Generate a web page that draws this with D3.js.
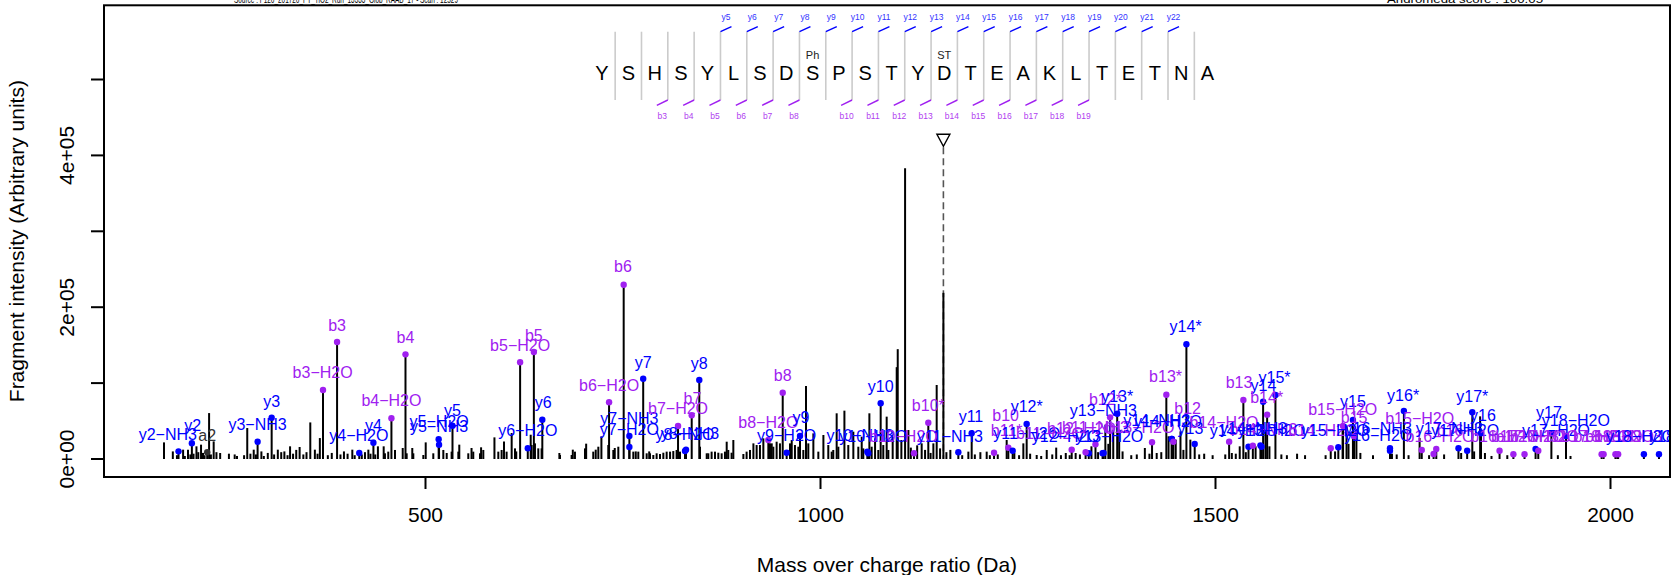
<!DOCTYPE html>
<html><head><meta charset="utf-8">
<script src="https://cdn.jsdelivr.net/npm/d3@7"></script>
<style>body{margin:0;background:#fff}svg{display:block;font-family:"Liberation Sans",Arial,Helvetica,sans-serif}</style>
</head><body><svg id="c" width="1671" height="575"></svg>
<script>
// ---------------- DATA ----------------
const headerLeft = "Source : F126_201726_PT_TiO2_Run_13333_Glob_RAAB_17 - Scan : 12529";
const headerRight = "Andromeda score : 100.05";
const xTitle = "Mass over charge ratio (Da)";
const yTitle = "Fragment intensity (Arbitrary units)";
const xTicks = [500, 1000, 1500, 2000];
const yTicks = [0, 100000, 200000, 300000, 400000, 500000];
const yTickLabels = ["0e+00", "", "2e+05", "", "4e+05", ""];

const sequence = ["Y","S","H","S","Y","L","S","D","S","P","S","T","Y","D","T","E","A","K","L","T","E","T","N","A"];
const yIonSites = [5,6,7,8,9,10,11,12,13,14,15,16,17,18,19,20,21,22];
const bIonSites = [3,4,5,6,7,8,10,11,12,13,14,15,16,17,18,19];
const modSites = [9, 14];          // 1-based residue positions
const modLabels = ["Ph", "ST"];

const precursorMz = 1156.2;
const precursorMarkInt = 420000;

// unannotated peaks (m/z, intensity) - larger peaks
const peakMz = [169.6,180.8,193.8,200.0,210.7,216.5,226.7,232.5,240.7,251.8,259.1,275.0,283.2,292.9,313.7,322.0,329.2,341.3,354.8,360.6,366.9,397.4,408.0,428.3,440.4,447.7,471.8,483.9,500.9,527.5,543.4,558.9,571.0,587.9,600.0,609.7,615.5,633.8,670.1,687.1,704.0,716.1,723.3,740.2,766.8,783.8,797.5,810.2,856.6,867.1,881.9,890.3,903.0,915.7,928.3,938.9,964.2,982.3,991.6,1004.3,1014.8,1021.1,1030.9,1042.2,1052.8,1062.5,1069.7,1084.4,1092.0,1097.1,1098.4,1107.7,1111.9,1128.7,1143.5,1147.7,1156.2,1187.8,1211.0,1236.3,1257.4,1274.3,1287.0,1311.1,1323.6,1343.6,1361.2,1371.2,1378.7,1411.2,1426.2,1441.2,1450.3,1456.3,1468.8,1486.3,1521.3,1526.3,1531.3,1551.4,1563.9,1568.9,1603.9,1661.5,1666.5,1679.0,1724.0,1759.0,1811.6,1835.6,1841.7,2009.3];
const peakInt = [21900,10000,12300,12300,16700,18900,60500,23200,7900,7000,6000,40800,12300,10000,12300,10000,16700,15800,48200,12300,27600,10000,12300,12300,16700,16700,14500,14500,21900,7900,18900,14500,15400,28500,23200,34200,10000,32000,7900,12300,20200,12300,29800,14500,10000,10000,6600,9700,7500,9700,22800,25000,6600,20600,27200,20600,25000,96200,33800,31600,9700,60200,63700,36000,29400,60200,27200,55800,29400,121000,144700,383000,38200,20600,20600,97500,218900,9700,9700,25000,20600,5300,11900,7900,7900,16700,45200,36500,38600,14500,7900,29900,25500,36500,25500,7000,7900,7000,16700,16700,36500,16700,7000,38600,43000,34300,7000,27700,7900,56200,7900,3500];
// unannotated small peaks (background "grass")
const smallMz = [186,196,203,207,213,219,221,229,236,262,271,279,286,296,301,309,318,326,333,337,346,350,364,377,382,393,402,411,420,424,431,437,449.3,453.5,462.0,476.8,485.2,497.9,510.5,523.2,533.7,542.2,554.8,561.1,569.6,573.8,592.8,597.0,603.3,613.9,635.0,639.2,643.4,647.6,670.9,685.6,689.8,702.5,713.0,719.4,732.0,738.4,744.7,763.7,770.0,780.6,784.8,789.0,793.2,801.7,805.9,814.3,818.5,822.8,848.1,858.6,862.8,871.3,875.5,879.7,883.9,888.1,907.1,911.4,919.8,924.0,936.7,940.9,945.1,949.3,962.0,968.3,972.6,978.9,985.2,997.9,1010.5,1016.8,1023.2,1035.8,1048.5,1054.8,1065.4,1073.8,1080.1,1086.5,1103,1115,1123,1133,1140,1152,1160,1165,1180,1196,1203,1215,1225,1246,1252,1266,1280,1294,1299,1305,1316,1329,1352,1365,1383,1394,1401,1417,1432,1460,1480,1497,1513,1539,1584,1591,1614,1640,1652,1669,1684,1700,1730,1745,1771,1790,1828,1850,1870,1934,1950];
const smallInt = [5000,4000,6000,7000,9000,8000,5000,6000,9000,4000,5000,7000,6000,4000,8000,6000,9000,5000,7000,12000,6000,9000,7000,5000,8000,6000,7000,5000,6000,9000,7000,6000,7500,9700,11900,7500,7500,5300,7500,11900,9700,9700,7500,9700,7500,11900,9700,11900,9700,14000,18400,20600,14000,14000,5300,5300,9700,14000,9700,16200,18400,11900,16200,9700,9700,7500,7500,5300,7500,8300,9700,10500,11900,9700,16200,7500,9700,8300,7500,9700,11900,8300,9700,11900,18400,18400,20600,16200,22800,20600,20600,18400,16200,11900,20600,9700,18400,11900,16200,18400,16200,14000,16200,11900,18400,11900,25000,15000,18000,12000,8000,14000,9000,12000,5000,6000,9000,5000,6000,8000,5000,7000,4000,6000,15000,5000,5000,6000,9000,20000,10000,5000,6000,7000,9000,12000,6000,5000,6000,9000,6000,5000,5000,5000,10000,20000,8000,5000,6000,5000,5000,6000,10000,4000,5000,5000,4000];

// annotated fragment ions: peak m/z, intensity, label, label anchor (m/z, intensity)
const ionMz = [188.0,204.9,224.3,288.1,305.9,370.9,388.7,416.8,434.7,457.5,475.3,517.3,517.8,534.8,620.4,637.8,630.1,648.5,733.0,751.5,758.7,758.7,776.2,820.3,837.6,829.1,830.4,847.2,934.6,952.8,957.8,974.7,1059.9,1061.1,1076.8,1119.0,1137.1,1175.1,1192.0,1220.3,1238.4,1243.9,1261.6,1318.6,1340.2,1336.2,1348.7,1357.7,1367.2,1359.0,1376.2,1420.3,1445.3,1438.4,1445.3,1463.8,1474.3,1447.3,1517.9,1535.9,1542.4,1547.9,1557.5,1558.9,1560.9,1566.0,1576.5,1646.5,1656.1,1674.6,1662.1,1676.0,1721.5,1721.5,1739.1,1761.7,1776.7,1780.1,1808.2,1819.2,1825.7,1836.7,1860.2,1877.7,1891.8,1905.8,1909.2,1925.8,1944.3,1989.4,1991.9,2006.9,2010.3,2042.9,2062.0];
const ionInt = [10100,20700,8800,22800,54400,90900,154100,7900,21500,53600,137900,26000,18800,43900,127400,141000,14100,51800,74700,229600,30300,15800,105800,43500,57600,10500,12300,104100,25000,87400,8300,30300,9600,7500,73400,7500,47800,8800,33900,8300,14900,10900,46100,12300,7500,8800,19400,7500,54900,8000,59700,22000,26400,84700,26400,151100,19800,22800,22800,77700,16200,17500,18000,16200,75500,58400,84300,14100,15400,51400,43500,30000,14100,10900,63200,11900,6600,13200,14100,10900,61500,34000,10900,6200,6200,13200,10900,33900,30300,6200,6200,6200,6200,6200,6200];
const ionLabel = ["y2-NH3","y2","a2","y3-NH3","y3","b3-H2O","b3","y4-H2O","y4","b4-H2O","b4","y5-H2O","y5-NH3","y5","b5-H2O","b5","y6-H2O","y6","b6-H2O","b6","y7-NH3","y7-H2O","y7","b7-H2O","b7","y8-H2O","y8-NH3","y8","b8-H2O","b8","y9-H2O","y9","y10-NH3","y10-H2O","y10","b10-H2O","b10*","y11-NH3","y11","b10","b11*","y11-H2O","y12*","b11-H2O","y12-H2O","b12-H2O","b11-NH3","y13-H2O","b12*","y13-NH3","y13*","b13-H2O","y14-NH3","b13*","y14-H2O","y14*","y13","b12","b14-H2O","b13","y14-H2O","b14-NH3","y14-NH3","y13-H2O","y14","b14*","y15*","b14-H2O","y15-H2O","y15","b15-H2O","b15","y16-NH3","y16-H2O","y16*","b15-H2O","b16-H2O","b16","y17-NH3","y17-H2O","y17*","y16","b16-H2O","b17-H2O","b17-NH3","y17-H2O","b17-H2O","y17","y18-H2O","b17-H2O","b18-H2O","b18-H2O","b18-NH3","y18-H2O","y18"];
const labelMz = [174.4,205.9,224.3,288.1,305.9,370.4,388.7,416.3,434.7,457.5,475.3,517.8,517.8,534.8,620.4,637.8,630.1,649.5,733.0,750.6,758.7,758.7,776.2,820.3,838.6,829.1,835.4,847.2,934.6,952.8,957.8,976.0,1050.6,1067.5,1076.8,1105.4,1137.1,1164.6,1191.1,1235.0,1236.3,1261.7,1261.6,1291.1,1311.1,1331.1,1348.7,1366.2,1361.3,1358.7,1376.2,1405.0,1426.3,1437.4,1440.5,1462.8,1468.9,1465.3,1511.4,1530.4,1536.3,1561.4,1548.9,1571.4,1561.4,1565.4,1575.4,1636.5,1651.9,1674.6,1661.6,1676.1,1706.6,1706.6,1738.1,1759.1,1784.8,1797.5,1796.7,1816.7,1825.7,1839.2,1866.7,1898.7,1892.4,1931.7,1916.8,1922.8,1956.8,1981.9,1997.5,2011.9,2022.8,2038.0,2065.8];
const labelInt = [32500,44800,31600,46100,75500,113700,176500,30700,44800,76800,160300,49100,42600,64600,150200,163400,37300,74200,97500,253400,53600,39100,127400,66800,80000,32900,33900,126100,47800,110700,30700,54400,31600,30300,96200,30300,71100,30300,56700,58000,38200,33900,69800,34300,29400,40400,42200,30300,79000,64600,82100,42200,51400,108400,49100,174300,40400,66800,47800,100500,38200,39100,40400,37300,97500,81300,107100,37300,37300,75500,65500,54400,40400,31600,84300,53600,29400,38200,40400,38200,83000,57000,29400,29400,29400,38200,29400,61000,51400,29400,29400,29400,29400,29400,29400];

// ---------------- DRAWING ----------------
const svg = d3.select("#c");
const x = d3.scaleLinear().domain([500, 1000]).range([425, 820]);
const y = d3.scaleLinear().domain([0, 400000]).range([459, 155.4]);
const plot = {l: 104, r: 1670, t: 5.3, b: 477};
const PURPLE = "#A020F0", BLUE = "#0000FF", DARK = "#333333";
const ionColor = l => l[0] === "b" ? PURPLE : (l[0] === "y" ? BLUE : DARK);

svg.append("defs").append("clipPath").attr("id", "pc")
  .append("rect").attr("x", plot.l).attr("y", plot.t)
  .attr("width", plot.r - plot.l).attr("height", plot.b - plot.t);

// header texts (partly outside the window)
svg.append("text").attr("x", 346).attr("y", 2.8).attr("text-anchor", "middle")
  .attr("font-size", 11).attr("textLength", 224).attr("lengthAdjust", "spacingAndGlyphs").text(headerLeft);
svg.append("text").attr("x", 1465).attr("y", 2.8).attr("text-anchor", "middle")
  .attr("font-size", 11).attr("textLength", 156).attr("lengthAdjust", "spacingAndGlyphs").text(headerRight);

const g = svg.append("g").attr("clip-path", "url(#pc)");

// precursor dashed line + triangle
const px = x(precursorMz), py = y(precursorMarkInt);
g.append("line").attr("x1", px).attr("x2", px).attr("y1", py + 7).attr("y2", y(0))
  .attr("stroke", "#555").attr("stroke-width", 1.6).attr("stroke-dasharray", "7,4");
g.append("path").attr("d", `M${px-6.5},${py-6} L${px+6.5},${py-6} L${px},${py+6} Z`)
  .attr("fill", "none").attr("stroke", "#000").attr("stroke-width", 1.4);

// peaks
const allPeaks = peakMz.map((m, i) => [m, peakInt[i]]).concat(smallMz.map((m, i) => [m, smallInt[i]]));
g.selectAll("line.pk").data(allPeaks).join("line").attr("class", "pk")
  .attr("x1", d => x(d[0])).attr("x2", d => x(d[0])).attr("y1", y(0)).attr("y2", d => y(d[1]))
  .attr("stroke", "#000").attr("stroke-width", 2);
const ions = ionMz.map((m, i) => ({m, v: ionInt[i], l: ionLabel[i], lm: labelMz[i], lv: labelInt[i]}));
g.selectAll("line.ion").data(ions).join("line").attr("class", "ion")
  .attr("x1", d => x(d.m)).attr("x2", d => x(d.m)).attr("y1", y(0)).attr("y2", d => y(d.v))
  .attr("stroke", "#000").attr("stroke-width", 2);
g.selectAll("circle.ion").data(ions).join("circle").attr("class", "ion")
  .attr("cx", d => x(d.m)).attr("cy", d => y(d.v)).attr("r", 3.2).attr("fill", d => ionColor(d.l));
g.selectAll("text.ion").data(ions).join("text").attr("class", "ion")
  .attr("x", d => x(d.lm)).attr("y", d => y(d.lv)).attr("dy", "0.36em").attr("text-anchor", "middle")
  .attr("font-size", 16).attr("fill", d => ionColor(d.l)).text(d => d.l.replace(/-/g, "\u2212"));

// peptide sequence
const seqX = d3.scaleLinear().domain([0, sequence.length - 1]).range([602, 1207.5]);
const sep = i => (seqX(i - 1) + seqX(i)) / 2; // separator after residue i (1-based)
const pep = svg.append("g");
pep.selectAll("line.sep").data(d3.range(1, sequence.length)).join("line").attr("class", "sep")
  .attr("x1", sep).attr("x2", sep).attr("y1", 31.7).attr("y2", 100)
  .attr("stroke", "#CBCBCB").attr("stroke-width", 1.6);
pep.selectAll("text.aa").data(sequence).join("text").attr("class", "aa")
  .attr("x", (d, i) => seqX(i)).attr("y", 79.8).attr("text-anchor", "middle")
  .attr("font-size", 20).attr("fill", "#000").text(d => d);
pep.selectAll("line.ym").data(yIonSites).join("line").attr("class", "ym")
  .attr("x1", sep).attr("x2", d => sep(d) + 11).attr("y1", 31.7).attr("y2", 26.7)
  .attr("stroke", BLUE).attr("stroke-width", 1.4);
pep.selectAll("text.ym").data(yIonSites).join("text").attr("class", "ym")
  .attr("x", d => sep(d) + 5.5).attr("y", 16.7).attr("dy", "0.35em").attr("text-anchor", "middle")
  .attr("font-size", 8.5).attr("fill", "#3333FF").text(d => "y" + d);
pep.selectAll("line.bm").data(bIonSites).join("line").attr("class", "bm")
  .attr("x1", sep).attr("x2", d => sep(d) - 11).attr("y1", 100).attr("y2", 105.3)
  .attr("stroke", PURPLE).attr("stroke-width", 1.4);
pep.selectAll("text.bm").data(bIonSites).join("text").attr("class", "bm")
  .attr("x", d => sep(d) - 5.5).attr("y", 115.7).attr("dy", "0.35em").attr("text-anchor", "middle")
  .attr("font-size", 8.5).attr("fill", "#B040F0").text(d => "b" + d);
pep.selectAll("text.mod").data(modSites).join("text").attr("class", "mod")
  .attr("x", d => seqX(d - 1)).attr("y", 55).attr("dy", "0.35em").attr("text-anchor", "middle")
  .attr("font-size", 11).attr("fill", "#222").text((d, i) => modLabels[i]);

// box
svg.append("rect").attr("x", plot.l).attr("y", plot.t).attr("width", plot.r - plot.l)
  .attr("height", plot.b - plot.t).attr("fill", "none").attr("stroke", "#000").attr("stroke-width", 2);

// x axis
const xa = svg.append("g").attr("transform", `translate(0,${plot.b})`)
  .call(d3.axisBottom(x).tickValues(xTicks).tickFormat(d3.format("d")).tickSize(12).tickPadding(18));
xa.select(".domain").remove();
xa.selectAll("line").attr("stroke", "#000").attr("stroke-width", 2);
xa.selectAll("text").attr("font-size", 21).attr("font-family", "Liberation Sans, Arial, sans-serif").attr("fill", "#000");

// y axis
const ya = svg.append("g");
ya.selectAll("line").data(yTicks).join("line")
  .attr("x1", plot.l - 13).attr("x2", plot.l).attr("y1", d => y(d)).attr("y2", d => y(d))
  .attr("stroke", "#000").attr("stroke-width", 2);
ya.selectAll("text").data(yTicks).join("text")
  .attr("transform", d => `translate(74,${y(d)}) rotate(-90)`).attr("text-anchor", "middle")
  .attr("font-size", 21).attr("fill", "#000").text((d, i) => yTickLabels[i]);

// titles
svg.append("text").attr("x", 887).attr("y", 572).attr("text-anchor", "middle")
  .attr("font-size", 21).attr("fill", "#000").text(xTitle);
svg.append("text").attr("transform", `translate(24,${(plot.t + plot.b) / 2}) rotate(-90)`)
  .attr("text-anchor", "middle").attr("font-size", 21).attr("fill", "#000").text(yTitle);
</script></body></html>
